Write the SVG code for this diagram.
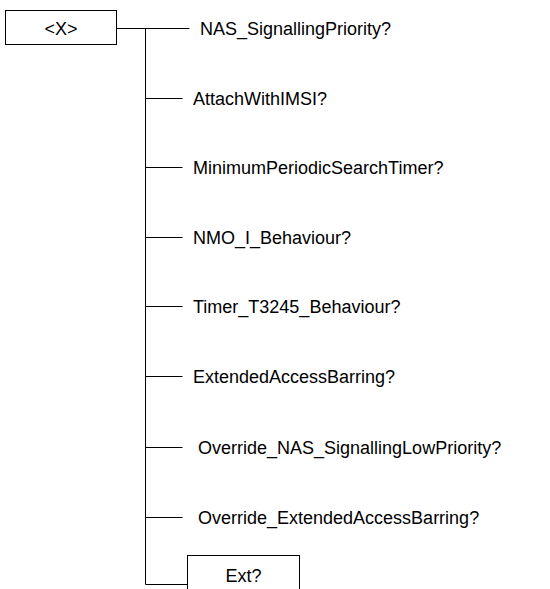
<svg xmlns="http://www.w3.org/2000/svg" width="550" height="589" viewBox="0 0 550 589">
<style>
.t{font-family:"Liberation Sans",Arial,sans-serif;font-size:18px;fill:#000}
.b{fill:#fff;stroke:#000;stroke-width:1}
.c{stroke:#000;stroke-width:1;fill:none}
</style>
<rect width="550" height="589" fill="#fff"/>
<g id="connectors">
<path class="c" d="M116.5 28.5H189.5M145.5 28.5V584.5H187.5M145.5 98.5H182.5M145.5 167.5H182.5M145.5 237.5H182.5M145.5 306.5H182.5M145.5 376.5H182.5M145.5 447.5H182.5M145.5 517.5H182.5"/>
</g>
<g id="node-x"><rect class="b" x="5.5" y="10.5" width="111" height="34"/><text class="t" x="61" y="34.5" text-anchor="middle">&lt;X&gt;</text></g>
<g id="n1"><text class="t" x="200" y="34.5">NAS_SignallingPriority?</text></g>
<g id="n2"><text class="t" x="193" y="105">AttachWithIMSI?</text></g>
<g id="n3"><text class="t" x="193" y="174">MinimumPeriodicSearchTimer?</text></g>
<g id="n4"><text class="t" x="193" y="244">NMO_I_Behaviour?</text></g>
<g id="n5"><text class="t" x="193" y="313">Timer_T3245_Behaviour?</text></g>
<g id="n6"><text class="t" x="193" y="383">ExtendedAccessBarring?</text></g>
<g id="n7"><text class="t" x="198" y="454">Override_NAS_SignallingLowPriority?</text></g>
<g id="n8"><text class="t" x="198" y="524">Override_ExtendedAccessBarring?</text></g>
<g id="n-ext"><rect class="b" x="187.5" y="555.5" width="112" height="40"/><text class="t" x="243.5" y="581.5" text-anchor="middle">Ext?</text></g>
</svg>
